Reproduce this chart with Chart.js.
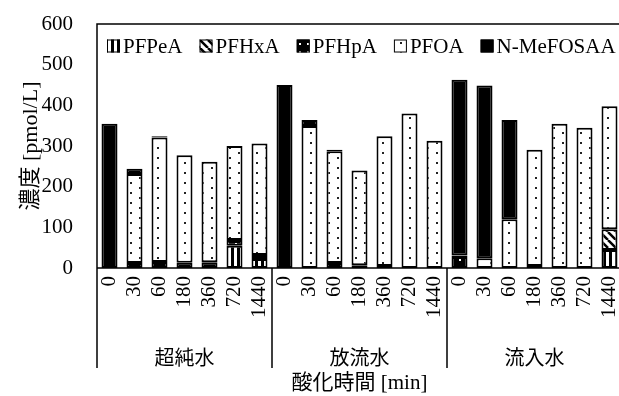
<!DOCTYPE html>
<html>
<head>
<meta charset="utf-8">
<script src="https://cdn.jsdelivr.net/npm/chart.js"></script>
<style>
  html, body { margin: 0; padding: 0; background: #fff; overflow: hidden; }
  #wrap { width: 625px; height: 396px; }
</style>
</head>
<body>
<div id="wrap"><canvas id="chart" width="625" height="396"></canvas></div>
<script>
// --- data
const times = ['0', '30', '60', '180', '360', '720', '1440'];
const groups = ['超純水', '放流水', '流入水'];
const seriesNames = ['PFPeA', 'PFHxA', 'PFHpA', 'PFOA', 'N-MeFOSAA'];
const yTicks = [0, 100, 200, 300, 400, 500, 600];

// values per group, in time order (超純水 | 放流水 | 流入水)
const pfpea = [0, 0, 0, 0, 0, 55, 22,   0, 0, 0, 0, 0, 0, 0,     0, 0, 0, 0, 0, 0, 44];
const pfhxa = [0, 0, 0, 0, 0, 0, 0,     0, 0, 0, 0, 0, 0, 0,     0, 0, 0, 0, 0, 0, 51];
const pfhpa = [0, 12, 15, 13, 14, 14, 10, 0, 0, 12, 7, 5, 0, 0,  27, 0, 0, 5, 0, 0, 0];
const pfoa  = [0, 219, 306, 264, 247, 231, 274, 0, 349, 275, 233, 319, 380, 313, 4, 24, 120, 286, 355, 345, 303];
const mefosaa = [355, 13, 3, 0, 0, 0, 0, 450, 15, 4, 0, 0, 0, 0, 432, 425, 244, 0, 0, 0, 0];

const labels = [];
groups.forEach(() => times.forEach(t => labels.push(t)));

const SERIF = '"Liberation Serif", "Times New Roman", serif';
const MIXED = '"Liberation Serif", "Noto Sans CJK JP", serif';
const CJK = '"Noto Sans CJK JP", sans-serif';

// --- fill patterns
function makePattern(w, h, draw) {
  const c = document.createElement('canvas');
  c.width = w; c.height = h;
  const g = c.getContext('2d');
  draw(g, w, h);
  return g.createPattern(c, 'repeat');
}
const patStripes = makePattern(6, 6, (g) => {
  g.fillStyle = '#fff'; g.fillRect(0, 0, 6, 6);
  g.fillStyle = '#000'; g.fillRect(3, 0, 3, 6);
});
const patDiag = makePattern(8, 8, (g) => {
  g.fillStyle = '#fff'; g.fillRect(0, 0, 8, 8);
  g.strokeStyle = '#000'; g.lineWidth = 2.5;
  g.beginPath();
  [-8, 0, 8].forEach(k => { g.moveTo(k, 0); g.lineTo(k + 8, 8); });
  g.stroke();
});
const patBlackDots = makePattern(8, 8, (g) => {
  g.fillStyle = '#000'; g.fillRect(0, 0, 8, 8);
  g.fillStyle = '#fff'; g.fillRect(3, 3, 2, 2);
});
const patDots = makePattern(18, 10, (g) => {
  g.fillStyle = '#fff'; g.fillRect(0, 0, 18, 10);
  g.fillStyle = '#222';
  g.fillRect(4, 2, 2, 2);
  g.fillRect(13, 7, 2, 2);
});
const fills = [patStripes, patDiag, patBlackDots, patDots, '#000'];
const seriesData = [pfpea, pfhxa, pfhpa, pfoa, mefosaa];

// --- frame, group labels and legend
const decor = {
  id: 'decor',
  afterDraw(chart) {
    const { ctx, chartArea: a, scales: { x } } = chart;
    const frameBottom = 368;
    ctx.save();
    ctx.strokeStyle = '#000';
    ctx.lineWidth = 1.5;
    ctx.beginPath();
    ctx.moveTo(a.left, frameBottom); ctx.lineTo(a.left, a.top);
    ctx.lineTo(a.right, a.top); ctx.lineTo(a.right, frameBottom);
    ctx.moveTo(a.left, a.bottom); ctx.lineTo(a.right, a.bottom);
    for (let i = 1; i < groups.length; i++) {
      const idx = i * times.length;
      const bx = (x.getPixelForValue(idx - 1) + x.getPixelForValue(idx)) / 2;
      ctx.moveTo(bx, a.bottom); ctx.lineTo(bx, frameBottom);
    }
    ctx.stroke();

    // group names
    ctx.fillStyle = '#000';
    ctx.font = '20px ' + CJK;
    ctx.textAlign = 'center';
    ctx.textBaseline = 'middle';
    groups.forEach((g, i) => {
      const first = x.getPixelForValue(i * times.length);
      const last = x.getPixelForValue((i + 1) * times.length - 1);
      ctx.fillText(g, (first + last) / 2, 357);
    });

    // legend
    ctx.font = '21px ' + SERIF;
    ctx.textAlign = 'left';
    let lx = 107;
    const ly = 46;
    seriesNames.forEach((name, i) => {
      ctx.fillStyle = fills[i];
      ctx.fillRect(lx, ly - 6.5, 13, 13);
      ctx.lineWidth = 1;
      ctx.strokeRect(lx + 0.5, ly - 6, 12, 12);
      ctx.fillStyle = '#000';
      ctx.fillText(name, lx + 16, ly + 1);
      lx += 16 + ctx.measureText(name).width + 17;
    });
    ctx.restore();
  }
};

function noPadding(scale) {
  scale.paddingLeft = 0; scale.paddingRight = 0;
  scale.paddingTop = 0; scale.paddingBottom = 0;
}

new Chart(document.getElementById('chart'), {
  type: 'bar',
  data: {
    labels,
    datasets: seriesNames.map((name, i) => ({
      label: name,
      data: seriesData[i],
      backgroundColor: fills[i],
      borderColor: '#000',
      borderWidth: 2,
      borderSkipped: false,
      categoryPercentage: 1,
      barPercentage: 0.64
    }))
  },
  options: {
    responsive: false,
    animation: false,
    layout: { autoPadding: false, padding: { top: 24, right: 3, left: 0, bottom: 0 } },
    plugins: { legend: { display: false }, tooltip: { enabled: false } },
    scales: {
      x: {
        stacked: true,
        grid: { display: false, drawTicks: false },
        border: { display: false },
        ticks: {
          autoSkip: false, minRotation: 90, maxRotation: 90,
          padding: 8, color: '#000', font: { family: SERIF, size: 21 }
        },
        title: {
          display: true, text: '酸化時間 [min]', color: '#000',
          font: { family: MIXED, size: 21 }, padding: { top: 2, bottom: 0 }
        },
        afterFit(scale) { scale.height = 128; noPadding(scale); }
      },
      y: {
        stacked: true,
        min: 0, max: 600,
        grid: { display: false, drawTicks: false },
        border: { display: false },
        afterBuildTicks(scale) { scale.ticks = yTicks.map(v => ({ value: v })); },
        ticks: { padding: 24, color: '#000', font: { family: SERIF, size: 21 } },
        title: {
          display: true, text: '濃度 [pmol/L]', color: '#000',
          font: { family: MIXED, size: 22 }, padding: { top: 18, bottom: 0 }
        },
        afterFit(scale) { scale.width = 97; noPadding(scale); }
      }
    }
  },
  plugins: [decor]
});
</script>
</body>
</html>
